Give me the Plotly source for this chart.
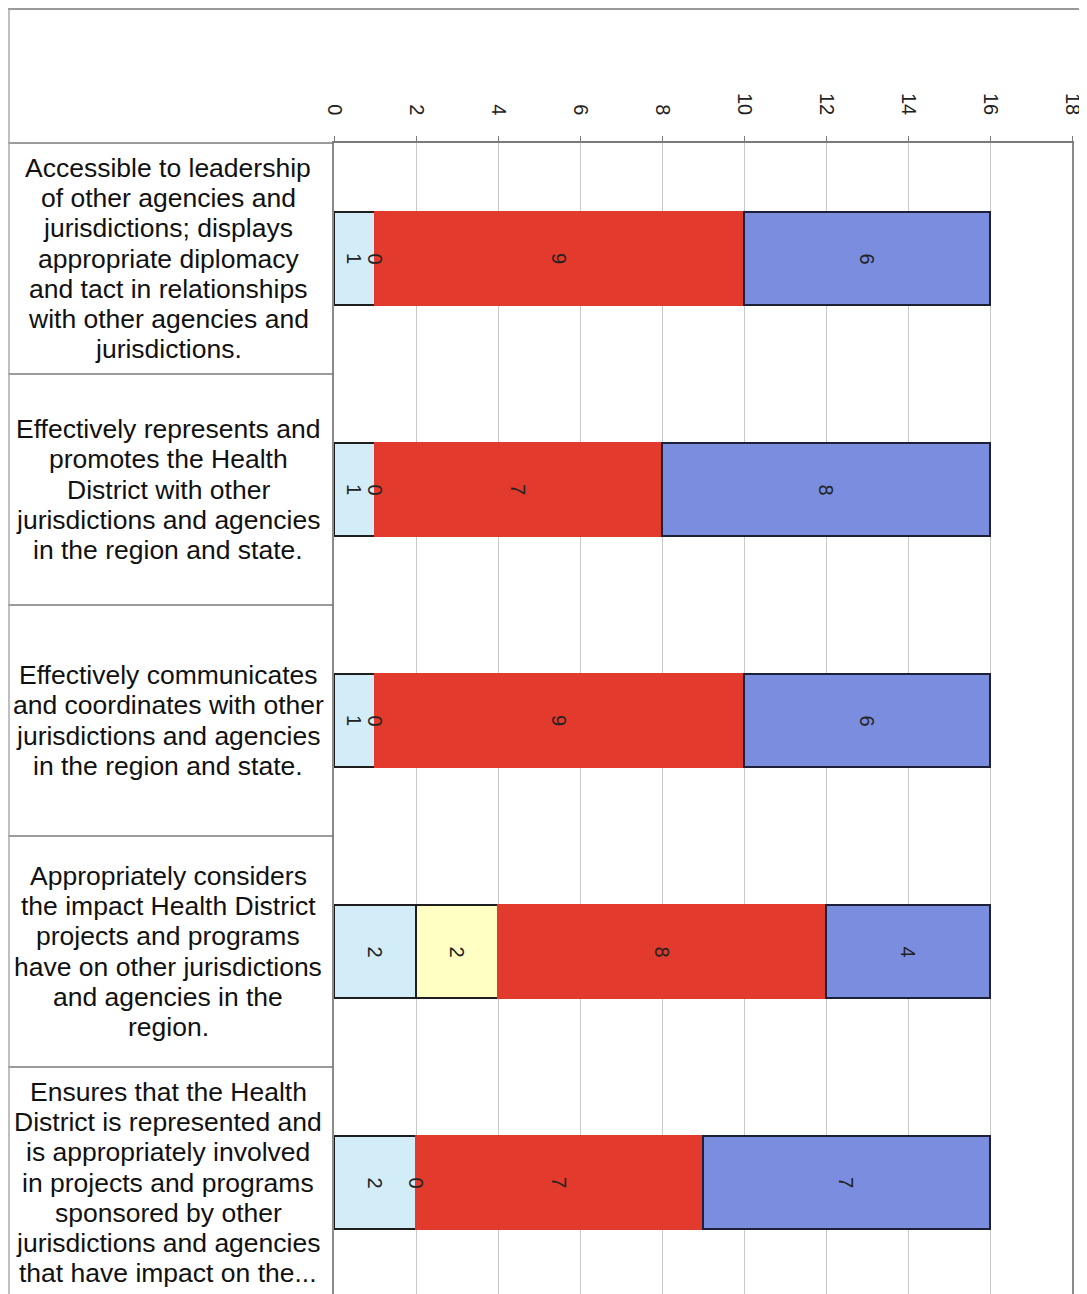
import plotly.graph_objects as go

# ---- data ----
categories = [
    ["Accessible to leadership", "of other agencies and", "jurisdictions; displays",
     "appropriate diplomacy", "and tact in relationships", "with other agencies and",
     "jurisdictions."],
    ["Effectively represents and", "promotes the Health", "District with other",
     "jurisdictions and agencies", "in the region and state."],
    ["Effectively communicates", "and coordinates with other", "jurisdictions and agencies",
     "in the region and state."],
    ["Appropriately considers", "the impact Health District", "projects and programs",
     "have on other jurisdictions", "and agencies in the", "region."],
    ["Ensures that the Health", "District is represented and", "is appropriately involved",
     "in projects and programs", "sponsored by other", "jurisdictions and agencies",
     "that have impact on the..."],
]
series_names = ["Series 1", "Series 2", "Series 3", "Series 4"]
series_1 = [1, 1, 1, 2, 2]
series_2 = [0, 0, 0, 2, 0]
series_3 = [9, 7, 9, 8, 7]
series_4 = [6, 8, 6, 4, 7]
x_ticks = [0, 2, 4, 6, 8, 10, 12, 14, 16, 18]

series_values = [series_1, series_2, series_3, series_4]
fill_colors = ["#D2ECF8", "#FFFFC4", "#E23A2C", "#7B8DDE"]
edge_colors = ["#1E1E1E", "#1E1E1E", "#E23A2C", "#1E2038"]

OFF = 8  # page body margin
W, H = 1087 - OFF, 1294 - OFF
ML, MR, MT, MB = 334 - OFF, 15, 143 - OFF, 0
plot_w = W - ML - MR
plot_h = H - MT - MB
band_px = 231.0
ymax = -0.5 + plot_h / band_px

FONT = "Liberation Sans, Arial, sans-serif"

fig = go.Figure()
ypos = list(range(len(categories)))
for name, vals, fc, ec in zip(series_names, series_values, fill_colors, edge_colors):
    fig.add_trace(go.Bar(
        name=name, y=ypos, x=vals, orientation="h", width=0.4,
        marker=dict(color=fc, line=dict(color=ec, width=1.8)),
        showlegend=False, hoverinfo="x+name",
    ))

annotations = []
# data labels (rotated)
for i in ypos:
    start = 0
    for vals in series_values:
        v = vals[i]
        annotations.append(dict(
            x=start + v / 2, y=i, xref="x", yref="y", text=str(v),
            showarrow=False, textangle=90,
            font=dict(family=FONT, size=20, color="#222222"),
        ))
        start += v

# category labels, one annotation per line for tight line spacing
line_px = 30.3
label_x_paper = (168 - OFF - ML) / plot_w
for i, lines in enumerate(categories):
    n = len(lines)
    for j, line in enumerate(lines):
        off = (j - (n - 1) / 2) * line_px / band_px
        annotations.append(dict(
            x=label_x_paper, y=i + off, xref="paper", yref="y", text=line,
            showarrow=False, xanchor="center", yanchor="middle",
            font=dict(family=FONT, size=26.5, color="#111111"),
        ))

shapes = []
left_paper = (0 - ML) / plot_w
# separators in label column
for b in [0.5, 1.5, 2.5, 3.5]:
    shapes.append(dict(type="line", xref="paper", yref="y", x0=left_paper, x1=0,
                       y0=b, y1=b, line=dict(color="#7a7a7a", width=1.5)))
# top header line through label column
shapes.append(dict(type="line", xref="paper", yref="paper", x0=left_paper, x1=0,
                   y0=1, y1=1, line=dict(color="#7a7a7a", width=1.5)))
# outer frame: top and left borders (as close to the page edge as possible)
top_paper = (H - 1 - MB) / plot_h
left2 = (1 - ML) / plot_w
shapes.append(dict(type="line", xref="paper", yref="paper", x0=left_paper, x1=1.05,
                   y0=top_paper, y1=top_paper, line=dict(color="#999999", width=2)))
shapes.append(dict(type="line", xref="paper", yref="paper", x0=left2, x1=left2,
                   y0=0, y1=top_paper, line=dict(color="#aaaaaa", width=1.5)))

fig.update_layout(
    width=W, height=H,
    margin=dict(l=ML, r=MR, t=MT, b=MB),
    barmode="stack",
    paper_bgcolor="white", plot_bgcolor="white",
    font=dict(family=FONT, color="#222222"),
    annotations=annotations, shapes=shapes,
    xaxis=dict(
        side="top", range=[0, 18], tickvals=x_ticks, ticktext=[str(t) for t in x_ticks],
        tickangle=90, tickfont=dict(family=FONT, size=20, color="#222222"),
        showgrid=True, gridcolor="#c8c8c8", gridwidth=1,
        showline=True, linecolor="#7a7a7a", linewidth=1.5,
        ticks="outside", ticklen=5, tickcolor="#7a7a7a",
        ticklabelstandoff=14, zeroline=False, fixedrange=True,
    ),
    yaxis=dict(
        range=[ymax, -0.5], showticklabels=False, showgrid=False,
        showline=True, linecolor="#8a8a8a", linewidth=1.5, mirror=True,
        zeroline=False, ticks="", fixedrange=True,
    ),
)

fig.write_html("out.html")
